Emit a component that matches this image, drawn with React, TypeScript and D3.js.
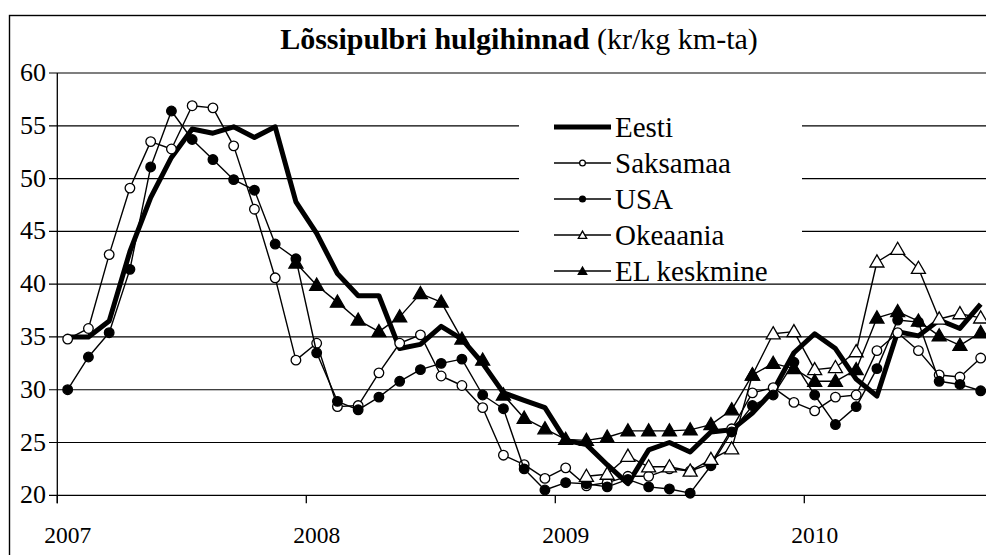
import * as d3 from "d3";

const yearLabels = ["2007", "2008", "2009", "2010"];
const monthCount = 45; // Jan 2007 .. Sep 2010

const eesti = [35.0, 35.0, 36.5, 43.1, 48.2, 52.0, 54.7, 54.3, 54.9, 53.9, 54.9, 47.8,
  44.8, 41.0, 38.9, 38.9, 33.9, 34.3, 36.0, 34.8, 32.5, 29.7, 29.0, 28.3,
  25.2, 24.8, 22.9, 21.1, 24.3, 25.0, 24.1, 26.0, 26.2, 27.8, 29.9, 33.5,
  35.3, 33.9, 31.0, 29.4, 35.5, 35.1, 36.6, 35.8, 38.1];

const saksamaa = [34.8, 35.8, 42.8, 49.1, 53.5, 52.8, 56.9, 56.7, 53.1, 47.1, 40.6, 32.8,
  34.4, 28.4, 28.5, 31.6, 34.4, 35.2, 31.3, 30.4, 28.3, 23.8, 22.9, 21.6,
  22.6, 20.9, 21.2, 21.8, 21.8, 22.5, 22.3, 23.0, 26.3, 29.7, 30.2, 28.8,
  28.0, 29.3, 29.5, 33.7, 35.4, 33.7, 31.4, 31.2, 33.0];

const usa = [30.0, 33.1, 35.4, 41.4, 51.1, 56.4, 53.7, 51.8, 49.9, 48.9, 43.8, 42.4,
  33.5, 28.9, 28.1, 29.3, 30.8, 31.9, 32.5, 32.9, 29.5, 28.2, 22.5, 20.5,
  21.2, 21.1, 20.8, 21.5, 20.8, 20.6, 20.2, 22.8, 26.0, 28.5, 29.5, 32.6,
  29.5, 26.7, 28.4, 32.0, 36.6, 36.4, 30.8, 30.5, 29.9];

const okeaania = [null, null, null, null, null, null, null, null, null, null, null, null,
  null, null, null, null, null, null, null, null, null, null, null, null,
  null, 21.8, 22.0, 23.7, 22.7, 22.7, 22.3, 23.4, 24.4, 31.4, 35.3, 35.5,
  31.9, 32.1, 33.6, 42.1, 43.3, 41.5, 36.7, 37.2, 36.8];

const elKeskmine = [null, null, null, null, null, null, null, null, null, null, null, 42.0,
  39.9, 38.3, 36.6, 35.5, 36.9, 39.1, 38.3, 34.8, 32.8, 29.5, 27.3, 26.3,
  25.3, 25.2, 25.5, 26.1, 26.1, 26.1, 26.2, 26.7, 28.1, 31.4, 32.5, 32.0,
  30.8, 30.8, 31.9, 36.8, 37.4, 36.5, 35.1, 34.2, 35.4];

const yTicks = [20, 25, 30, 35, 40, 45, 50, 55, 60];

type Marker = "none" | "openCircle" | "circle" | "openTriangle" | "triangle";
const series: { name: string; values: (number | null)[]; marker: Marker }[] = [
  { name: "Eesti", values: eesti, marker: "none" },
  { name: "Saksamaa", values: saksamaa, marker: "openCircle" },
  { name: "USA", values: usa, marker: "circle" },
  { name: "Okeaania", values: okeaania, marker: "openTriangle" },
  { name: "EL keskmine", values: elKeskmine, marker: "triangle" },
];

const W = 986;
const H = 555;
const left = 57.3;
const top = 73;
const bottom = 495.3;
const step = 20.75;
const serif = { fontFamily: '"Liberation Serif"', fontWeight: 400 };

function MarkerShape({ type, cx, cy, small }: { type: Marker; cx: number; cy: number; small?: boolean }) {
  const k = small ? 0.6 : 1;
  if (type === "openCircle" || type === "circle") {
    return (
      <circle cx={cx} cy={cy} r={4.8 * k}
        fill={type === "circle" ? "#000" : "#fff"} stroke="#000" strokeWidth={1.3} />
    );
  }
  if (type === "openTriangle" || type === "triangle") {
    const tri = d3.symbol(d3.symbolTriangle, 85 * k * k)();
    return (
      <path d={tri || ""} transform={`translate(${cx},${cy + 1})`}
        fill={type === "triangle" ? "#000" : "#fff"} stroke="#000" strokeWidth={1.3} />
    );
  }
  return null;
}

export default function App() {
  const idx = d3.range(monthCount);
  const x = d3.scaleBand<number>().domain(idx).range([left, left + monthCount * step]);
  const cx = (i: number) => (x(i) as number) + x.bandwidth() / 2;
  const y = d3.scaleLinear().domain([20, 60]).range([bottom, top]);

  const line = d3.line<number | null>()
    .defined((d) => d != null)
    .x((_, i) => cx(i))
    .y((d) => y(d as number));

  const legendRows = [127, 163, 199, 235, 271];

  return (
    <svg width={W} height={H} style={{ position: "absolute", left: 0, top: 0, background: "#fff" }}>
      <rect x={9.5} y={15.5} width={1100} height={700} fill="#fff" stroke="#000" strokeWidth={1.4} />

      <text x={519} y={49} textAnchor="middle" fontSize={30} fill="#000" style={serif}>
        <tspan style={{ fontWeight: 700 }}>Lõssipulbri hulgihinnad</tspan>
        <tspan style={{ fontWeight: 400 }}> (kr/kg km-ta)</tspan>
      </text>

      {/* grid + y ticks */}
      {yTicks.map((t) => (
        <g key={t}>
          <line x1={49} x2={W} y1={y(t)} y2={y(t)} stroke="#000" strokeWidth={1.2} />
          <text x={46} y={y(t) + 8} textAnchor="end" fontSize={26} style={serif}>{t}</text>
        </g>
      ))}

      {/* axes */}
      <line x1={left} x2={left} y1={top} y2={bottom + 8} stroke="#000" strokeWidth={1.3} />
      {yearLabels.map((lab, j) => (
        <g key={lab}>
          <line x1={x(j * 12)} x2={x(j * 12)} y1={bottom} y2={bottom + 8} stroke="#000" strokeWidth={1.3} />
          <text x={cx(j * 12)} y={543} textAnchor="middle" fontSize={23.5} style={serif}>{lab}</text>
        </g>
      ))}

      {/* legend background */}
      <rect x={519} y={106} width={283} height={177} fill="#fff" />

      {series.map((s) => (
        <g key={s.name}>
          <path d={line(s.values) || ""} fill="none" stroke="#000"
            strokeWidth={s.marker === "none" ? 5 : 1.4} strokeLinejoin="round" />
          {s.values.map((v, i) => v == null ? null : (
            <MarkerShape key={i} type={s.marker} cx={cx(i)} cy={y(v)} />
          ))}
        </g>
      ))}

      {series.map((s, i) => (
        <g key={s.name} transform={`translate(0,${legendRows[i]})`}>
          <line x1={554} x2={611} y1={0} y2={0} stroke="#000" strokeWidth={s.marker === "none" ? 5 : 1.4} />
          <MarkerShape type={s.marker} cx={582.5} cy={0} small />
          <text x={615} y={10} fontSize={29} style={serif}>{s.name}</text>
        </g>
      ))}
    </svg>
  );
}
